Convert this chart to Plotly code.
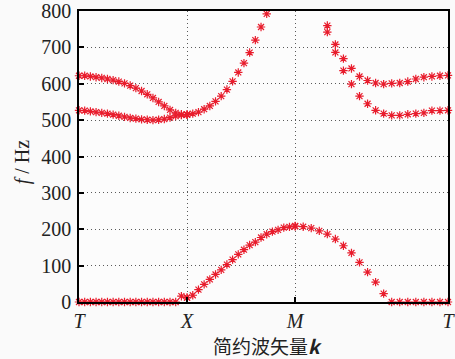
import numpy as np
import plotly.graph_objects as go

# path segments (reduced wave vector): T-X, X-M, M-T
seg_names = ["T", "X", "M", "T"]
seg_lengths = [1.0, 1.0, float(np.sqrt(2))]
n_per_seg = 20

# frequencies (Hz), 20 points per segment, None = off chart
tx_band1 = [0, 0, 0, 0, 0, 0, 0, 0, 0, 0, 0, 0, 0, 0, 0, 0, 0, 0, 16, 12]
tx_band2 = [527, 526, 524, 522, 520, 518, 515, 512, 509, 506, 504, 502, 501, 500, 501, 503, 507, 511, 514, 515]
tx_band3 = [622, 622, 620, 618, 616, 613, 610, 606, 601, 595, 588, 580, 571, 561, 550, 539, 528, 520, 516, 515]

xm_band1 = [12, 18.5, 34, 48.5, 62, 75.7, 88.4, 103, 116.6, 131, 143.8, 156.5, 164.6, 177.3, 186.4, 193.6, 198.3, 204.6, 206.4, 208.3]
xm_band2 = [515, 518, 522, 530, 539, 551.5, 566, 584, 606.5, 631, 656.6, 685.8, 720, 756, 792, None, None, None, None, None]

mt_band1 = [209, 207, 203, 195.5, 186.5, 173, 154.7, 134.8, 109, 82, 54.7, 23, 0, 0, 0, 0, 0, 0, 0, 0]
mt_band2 = [None, None, None, None, 742, 686, 636, 599, 566, 545, 527, 518, 513, 513, 516, 518, 520, 526, 526, 527]
mt_band3 = [None, None, None, None, 760, 708, 669, 642, 620, 609, 602, 599, 601, 602, 606, 613, 618, 620, 622, 623]

y_ticks = [0, 100, 200, 300, 400, 500, 600, 700, 800]

# positions along the path
starts = np.concatenate([[0.0], np.cumsum(seg_lengths)])
k_tx = np.linspace(starts[0], starts[1], n_per_seg)
k_xm = np.linspace(starts[1], starts[2], n_per_seg)
k_mt = np.linspace(starts[2], starts[3], n_per_seg)

xs, ys = [], []
for k, bands in [(k_tx, [tx_band1, tx_band2, tx_band3]),
                 (k_xm, [xm_band1, xm_band2]),
                 (k_mt, [mt_band1, mt_band2, mt_band3])]:
    for b in bands:
        for kk, v in zip(k, b):
            if v is not None:
                xs.append(float(kk))
                ys.append(v)

red = "rgb(232,28,44)"
fig = go.Figure()
fig.add_trace(go.Scatter(
    x=xs, y=ys, mode="markers", cliponaxis=False,
    marker=dict(symbol="asterisk-open", size=7,
                line=dict(color=red, width=1.2), color=red),
    showlegend=False, hoverinfo="skip"))

serif = "Liberation Serif, Times New Roman, serif"
grid = dict(showgrid=True, gridcolor="rgb(90,90,90)", gridwidth=1, griddash="1px,3px")

fig.update_xaxes(
    range=[starts[0], starts[-1]], automargin=False,
    tickmode="array", tickvals=list(starts),
    ticktext=[f"<i>{s}</i>" for s in seg_names],
    ticks="inside", ticklen=5, tickwidth=1.5, tickcolor="black",
    showline=True, linecolor="black", linewidth=1.5, mirror=True,
    zeroline=False, tickfont=dict(family=serif, size=20, color="#222"),
    ticklabeloverflow="allow",
    **grid)
fig.update_yaxes(
    range=[0, 800], automargin=False, tickmode="array", tickvals=y_ticks,
    ticks="inside", ticklen=5, tickwidth=1.5, tickcolor="black",
    showline=True, linecolor="black", linewidth=1.5, mirror=True,
    zeroline=False, tickfont=dict(family=serif, size=20, color="#222"),
    ticklabelstandoff=2, ticklabeloverflow="allow",
    **grid)

fig.add_annotation(text="<i>f</i> / Hz", xref="paper", yref="paper",
                   x=0, y=0.48, xanchor="center", yanchor="middle",
                   xshift=-57, textangle=-90, showarrow=False,
                   font=dict(family=serif, size=20, color="#222"))
fig.add_annotation(text="简约波矢量<b><i>k</i></b>", xref="paper", yref="paper",
                   x=0.51, y=0, xanchor="center", yanchor="middle",
                   yshift=-43, showarrow=False,
                   font=dict(family="Noto Sans CJK SC, serif", size=19, color="#222"))

fig.update_layout(
    width=455, height=359,
    margin=dict(l=79, r=7, t=11, b=57),
    paper_bgcolor="rgb(250,250,250)", plot_bgcolor="rgb(252,252,252)",
)
fig.write_html("out.html", config={"displayModeBar": False},
               post_script="document.body.style.margin='0';")
